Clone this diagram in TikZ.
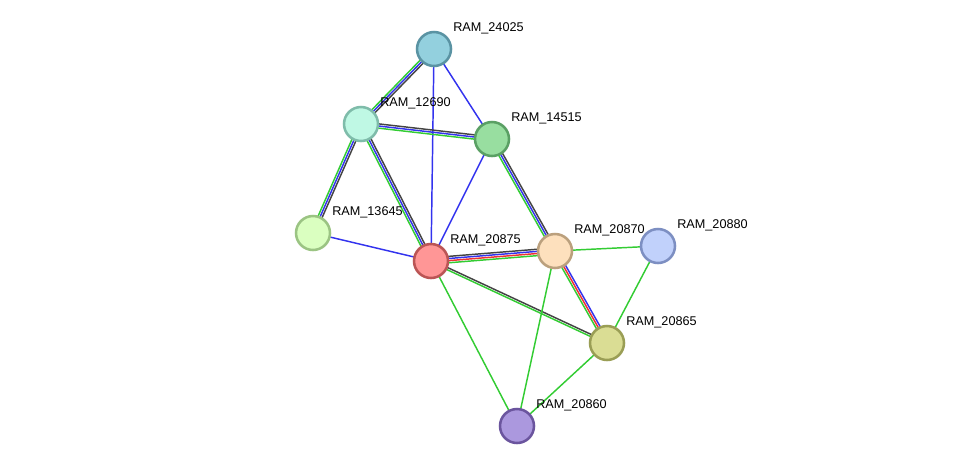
\documentclass[tikz,border=0pt]{standalone}
\usepackage{fontspec}
\setmainfont{Liberation Sans}
\usetikzlibrary{calc}
\begin{document}
\begin{tikzpicture}[x=0.75pt,y=-0.75pt,
  prot/.style={circle,minimum size=35\pgflinewidth,inner sep=0pt,line width=1.9pt,minimum size=25.5pt},
  lab/.style={anchor=west,font=\fontsize{9.5}{10}\selectfont,inner sep=0pt},
  e/.style={line width=1.1pt}]
\useasboundingbox (0,0) rectangle (976,472);
\definecolor{cg}{HTML}{33CC33}\definecolor{cb}{HTML}{3333EE}\definecolor{ck}{HTML}{444444}\definecolor{cr}{HTML}{EE3333}
\coordinate (p24025) at (434,49);
\coordinate (p12690) at (361,124);
\coordinate (p14515) at (492,139);
\coordinate (p13645) at (313,233);
\coordinate (p20875) at (431,261);
\coordinate (p20870) at (555,251);
\coordinate (p20880) at (658,246);
\coordinate (p20865) at (607,343);
\coordinate (p20860) at (517,426);
\newcommand{\ml}[3]{\foreach \c/\o in {#3}{\draw[e,\c] ($(#1)!\o pt!90:(#2)$) -- ($(#2)!\o pt!-90:(#1)$);}}
\ml{p24025}{p12690}{cg/-1.6,cb/0,ck/1.6}
\ml{p24025}{p20875}{cb/0}
\ml{p24025}{p14515}{cb/0}
\ml{p12690}{p14515}{cg/-1.6,cb/0,ck/1.6}
\ml{p12690}{p13645}{ck/1.6,cb/0,cg/-1.6}
\ml{p12690}{p20875}{ck/1.6,cb/0,cg/-1.6}
\ml{p13645}{p20875}{cb/0}
\ml{p14515}{p20875}{cb/0}
\ml{p14515}{p20870}{ck/1.6,cb/0,cg/-1.6}
\ml{p20875}{p20870}{ck/2.4,cb/0.8,cr/-0.8,cg/-2.4}
\ml{p20875}{p20865}{ck/0.8,cg/-0.8}
\ml{p20875}{p20860}{cg/0}
\ml{p20870}{p20880}{cg/0}
\ml{p20870}{p20865}{cg/-1.6,cr/0,cb/1.6}
\ml{p20870}{p20860}{cg/0}
\ml{p20880}{p20865}{cg/0}
\ml{p20865}{p20860}{cg/0}
\foreach \n/\f/\s in {24025/93D0DE/5A93A3,12690/BFF8E4/7FBCAA,14515/98DEA0/5AA064,13645/DAFFC0/9BC483,20875/FF9696/BB5555,20870/FDE0BD/BBA07D,20880/C1D1FB/7D8FC2,20865/DADD94/9A9E55,20860/AB98DE/6B559E}{
  \definecolor{fc}{HTML}{\f}\definecolor{sc}{HTML}{\s}
  \node[prot,fill=fc,draw=sc] (n\n) at (p\n) {};
  \node[lab] (l\n) at ($(p\n)+(19,-21)$) {RAM\_\n};
}
\end{tikzpicture}
\end{document}
